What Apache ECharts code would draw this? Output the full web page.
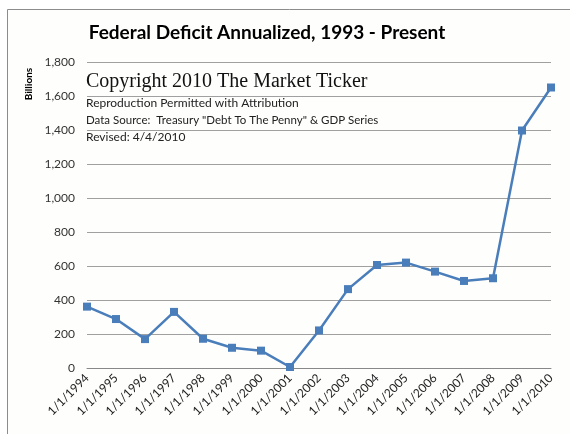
<!DOCTYPE html>
<html>
<head>
<meta charset="utf-8">
<script src="https://cdn.jsdelivr.net/npm/echarts@6/dist/echarts.min.js"></script>
<style>
html,body{margin:0;padding:0;background:#ffffff;}
#c{width:570px;height:434px;}
</style>
</head>
<body>
<div id="c"></div>
<script>
var categories = ['1/1/1994','1/1/1995','1/1/1996','1/1/1997','1/1/1998','1/1/1999','1/1/2000','1/1/2001','1/1/2002','1/1/2003','1/1/2004','1/1/2005','1/1/2006','1/1/2007','1/1/2008','1/1/2009','1/1/2010'];
var deficit = [361, 288, 170, 330, 172, 119, 102, 6, 221, 464, 606, 620, 567, 512, 528, 1397, 1650];
var titleText = 'Federal Deficit Annualized, 1993 - Present';
var noteLines = ['Reproduction Permitted with Attribution', 'Data Source:  Treasury "Debt To The Penny" & GDP Series', 'Revised: 4/4/2010'];
var copyrightText = 'Copyright 2010 The Market Ticker';

var chart = echarts.init(document.getElementById('c'), null, {renderer: 'canvas'});
var sans = 'Lato, "Open Sans", sans-serif';
var option = {
  animation: false,
  backgroundColor: '#ffffff',
  grid: {left: 87, top: 62, width: 464, height: 306, containLabel: false},
  graphic: [
    {type: 'rect', z: -10, shape: {x: 7.5, y: 9.5, width: 600, height: 500}, style: {fill: '#fefefd', stroke: '#8c8c8c', lineWidth: 1}},
    {type: 'text', x: 267, y: 33, style: {text: titleText, fontFamily: sans, fontWeight: 'bold', fontSize: 19, fill: '#000', textAlign: 'center', textVerticalAlign: 'middle'}},
    {type: 'text', x: 29, y: 84, rotation: Math.PI / 2, style: {text: 'Billions', fontFamily: sans, fontWeight: 'bold', fontSize: 10, fill: '#000', textAlign: 'center', textVerticalAlign: 'middle'}},
    {type: 'text', x: 86, y: 82, z: 10, style: {text: copyrightText, fontFamily: '"Liberation Serif", "Times New Roman", serif', fontSize: 20, fill: '#111', textAlign: 'left', textVerticalAlign: 'middle'}},
    {type: 'text', x: 86, y: 103, z: 10, style: {text: noteLines[0], fontFamily: sans, fontSize: 12, fill: '#222', textAlign: 'left', textVerticalAlign: 'middle'}},
    {type: 'text', x: 86, y: 120, z: 10, style: {text: noteLines[1], fontFamily: sans, fontSize: 11.5, fill: '#222', textAlign: 'left', textVerticalAlign: 'middle'}},
    {type: 'text', x: 86, y: 137, z: 10, style: {text: noteLines[2], fontFamily: sans, fontSize: 12, fill: '#222', textAlign: 'left', textVerticalAlign: 'middle'}}
  ],
  xAxis: {
    type: 'category',
    data: categories,
    boundaryGap: false,
    axisLine: {show: true, lineStyle: {color: '#888', width: 1}},
    axisTick: {show: false},
    axisLabel: {rotate: 45, fontFamily: sans, fontSize: 12, color: '#222', margin: 8, interval: 0},
    splitLine: {show: false}
  },
  yAxis: {
    type: 'value',
    min: 0, max: 1800, interval: 200,
    axisLine: {show: false},
    axisTick: {show: false},
    axisLabel: {fontFamily: sans, fontSize: 12, color: '#333', margin: 12,
      formatter: function (v) { return v.toLocaleString('en-US'); }},
    splitLine: {show: true, lineStyle: {color: '#a0a0a0', width: 1}}
  },
  series: [{
    type: 'line',
    data: deficit,
    symbol: 'rect',
    symbolSize: 8,
    lineStyle: {color: '#4a7ebb', width: 2.5},
    itemStyle: {color: '#4a7ebb'},
    z: 5
  }]
};
chart.setOption(option);
</script>
</body>
</html>
